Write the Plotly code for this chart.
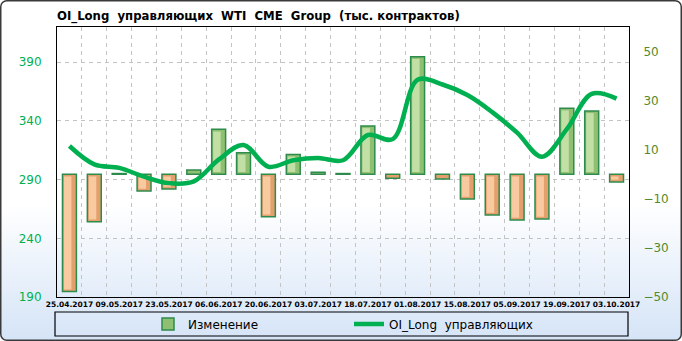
import base64
import plotly.graph_objects as go

# ---- data ----
dates = ["25.04.2017", "02.05.2017", "09.05.2017", "16.05.2017", "23.05.2017",
         "30.05.2017", "06.06.2017", "13.06.2017", "20.06.2017", "27.06.2017",
         "03.07.2017", "11.07.2017", "18.07.2017", "25.07.2017", "01.08.2017",
         "08.08.2017", "15.08.2017", "22.08.2017", "05.09.2017", "12.09.2017",
         "19.09.2017", "26.09.2017", "03.10.2017"]
change = [-47.8, -19.3, 0.3, -6.8, -6.0, 1.7, 18.3, 8.8, -17.3, 8.1, 0.8, 0.3,
          19.7, -1.6, 47.9, -1.9, -10.1, -16.6, -18.6, -18.2, 26.9, 25.8, -3.1]
oi_long = [318.6, 303, 300, 292.5, 287, 288.5, 307, 319.5, 301, 306.5, 308.5, 306.5,
           328, 324.5, 375, 371, 362, 347.5, 330, 309.5, 333, 363, 359]
tick_labels = [d if i % 2 == 0 else "" for i, d in enumerate(dates)]
left_ticks = [190, 240, 290, 340, 390]
right_ticks = [-50, -30, -10, 10, 30, 50]

W, H = 682, 341
ML, MR, MT, MB = 57, 53, 27, 44
PW, PH = W - ML - MR, H - MT - MB

pos = [v if v >= 0 else None for v in change]
neg = [v if v < 0 else None for v in change]

# inner highlight strips (bevel look), derived from the same values
INSET = 0.9
def inner(vals, sign):
    base, length = [], []
    for v in vals:
        if v is None or abs(v) < 3:
            base.append(None); length.append(None)
        else:
            base.append(sign * INSET); length.append(v - sign * 2 * INSET)
    return base, length

pos_b, pos_l = inner(pos, 1)
neg_b, neg_l = inner(neg, -1)

svg = f"""<svg xmlns='http://www.w3.org/2000/svg' width='{W}' height='{H}' viewBox='0 0 {W} {H}' preserveAspectRatio='none'>
<defs><linearGradient id='g' x1='0' y1='0' x2='0' y2='1'>
<stop offset='0' stop-color='#ffffff'/><stop offset='0.6' stop-color='#ffffff'/>
<stop offset='1' stop-color='#d5e4f7'/></linearGradient></defs>
<rect x='0.75' y='0.75' width='{W-1.5}' height='{H-1.5}' rx='6' ry='6' fill='url(#g)' stroke='#3a3a3a' stroke-width='1.5'/>
</svg>"""
bg_src = "data:image/svg+xml;base64," + base64.b64encode(svg.encode()).decode()

BW = 0.56
fig = go.Figure()
fig.add_trace(go.Bar(x=dates, y=pos, name="Изменение", yaxis="y", width=BW,
                     marker=dict(color="#8fbf70", line=dict(color="#2e8b4e", width=1.5))))
fig.add_trace(go.Bar(x=dates, y=neg, name="Изменение", yaxis="y", showlegend=False, width=BW,
                     marker=dict(color="#e3a06c", line=dict(color="#2e8b4e", width=1.5))))
fig.add_trace(go.Bar(x=dates, y=pos_l, base=pos_b, yaxis="y", showlegend=False, hoverinfo="skip",
                     width=0.3, offset=-0.22, marker=dict(color="#c2e0a6", line=dict(width=0))))
fig.add_trace(go.Bar(x=dates, y=neg_l, base=neg_b, yaxis="y", showlegend=False, hoverinfo="skip",
                     width=0.3, offset=-0.22, marker=dict(color="#f9c9a0", line=dict(width=0))))
fig.add_trace(go.Scatter(x=dates, y=oi_long, name="OI_Long\u00a0 управляющих", yaxis="y2",
                         mode="lines", line=dict(color="#00b050", width=4.5, shape="spline")))

fig.update_layout(
    width=W, height=H, autosize=False,
    margin=dict(l=ML, r=MR, t=MT, b=MB, pad=0, autoexpand=False),
    paper_bgcolor="white", plot_bgcolor="rgba(0,0,0,0)",
    barmode="overlay",
    font=dict(family="DejaVu Sans", size=12, color="black"),
    title=dict(text="OI_Long\u00a0 управляющих\u00a0 WTI\u00a0 CME\u00a0 Group\u00a0 (тыс. контрактов)",
               font=dict(family="DejaVu Sans Condensed", size=13, color="black", weight="bold"),
               xref="container", yref="container", x=ML / W, xanchor="left",
               y=1 - 15 / H, yanchor="middle"),
    xaxis=dict(type="category", tickmode="array", tickvals=dates, ticktext=tick_labels,
               tickson="boundaries", showgrid=True, gridcolor="#c4c4c4", griddash="4px,4px",
               gridwidth=1, showline=True, mirror=True, linecolor="black", linewidth=1,
               ticks="", tickangle=0, range=[-0.5, len(dates) - 0.5],
               tickfont=dict(family="DejaVu Sans", size=7.5, color="black", weight="bold")),
    yaxis=dict(side="right", range=[-50, 60], tickmode="array", tickvals=right_ticks,
               showgrid=False, zeroline=False, showline=True, linecolor="black", linewidth=1,
               ticks="", ticklabelstandoff=11,
               tickfont=dict(family="DejaVu Sans", size=12, color="#548a2c")),
    yaxis2=dict(side="left", overlaying="y", range=[190, 420], tickmode="array",
                tickvals=left_ticks, showgrid=True, gridcolor="#c4c4c4", griddash="4px,4px",
                zeroline=False, showline=True, linecolor="black", linewidth=1,
                ticks="", ticklabelstandoff=12,
                tickfont=dict(family="DejaVu Sans", size=12, color="#00b050")),
    legend=dict(orientation="h", x=(148 - ML) / PW, xanchor="left", y=-27 / PH, yanchor="middle",
                bgcolor="rgba(0,0,0,0)", entrywidth=156, entrywidthmode="pixels",
                font=dict(family="DejaVu Sans", size=12, color="black"), traceorder="normal"),
    images=[dict(source=bg_src, xref="paper", yref="paper", x=-ML / PW, y=1 + MT / PH,
                 sizex=W / PW, sizey=H / PH, xanchor="left", yanchor="top",
                 sizing="stretch", layer="below")],
    shapes=[dict(type="rect", xref="paper", yref="paper",
                 x0=(55 - ML) / PW, x1=(628 - ML) / PW, y0=-(336 - 297) / PH, y1=-(312 - 297) / PH,
                 line=dict(color="black", width=1.2), fillcolor="rgba(0,0,0,0)", layer="below")],
)

fig.write_html("out.html", config={"displayModeBar": False})
